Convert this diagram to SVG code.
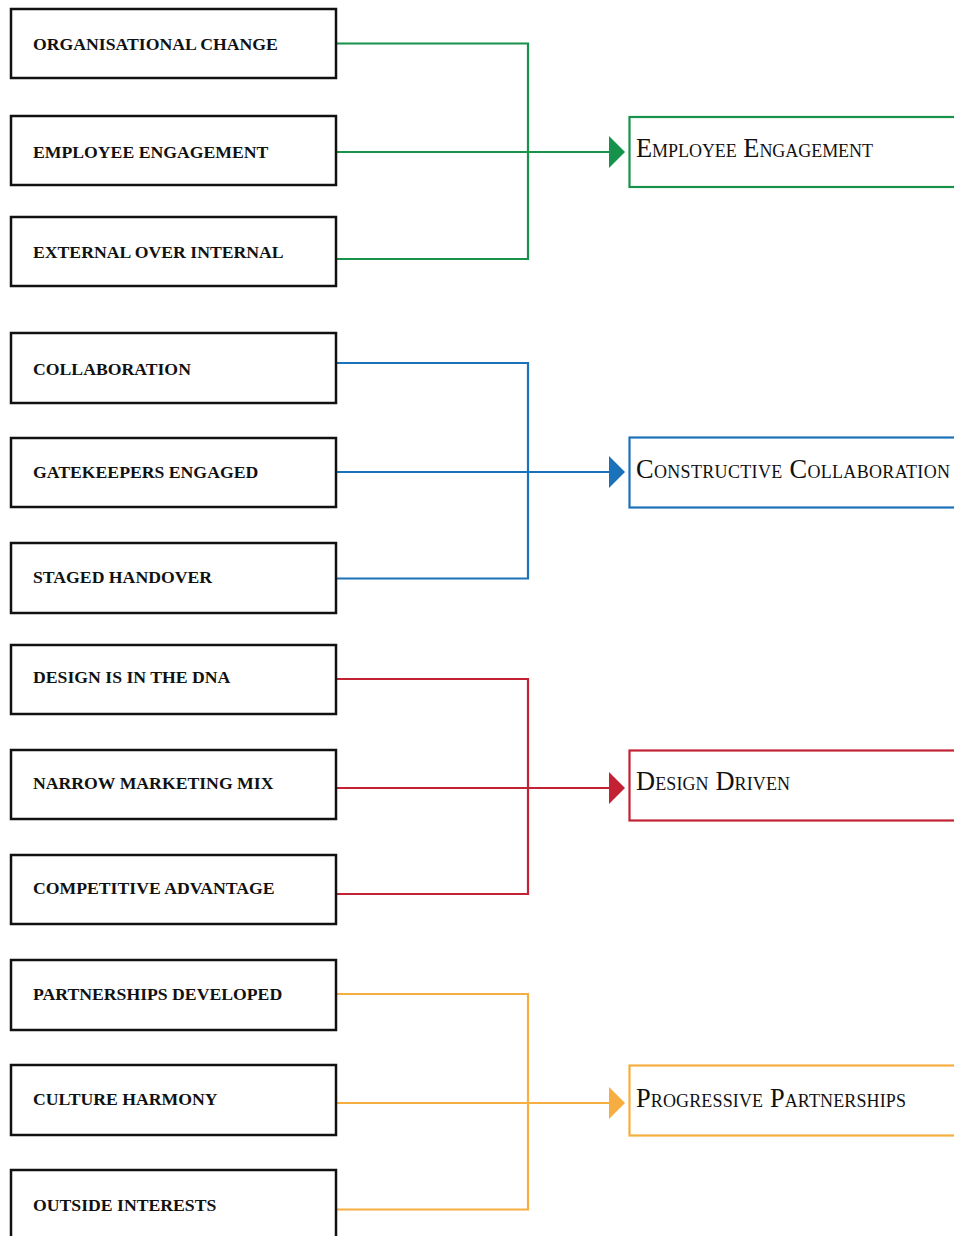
<svg xmlns="http://www.w3.org/2000/svg" width="954" height="1236" viewBox="0 0 954 1236">
  <style>
    .src rect { fill: #fff; stroke: #111; stroke-width: 2.5; }
    .src text { font-family: "Liberation Serif", "Times New Roman", serif; font-weight: bold; font-size: 17.7px; fill: #111; }
    .dst rect { fill: #fff; stroke-width: 2.2; }
    .dst text { font-family: "Liberation Serif", "Times New Roman", serif; font-variant: small-caps; font-size: 26.4px; fill: #111; }
    .wire { fill: none; stroke-width: 2.2; }
    .g { stroke: #17924a; } .gf { fill: #17924a; }
    .b { stroke: #1b72b8; } .bf { fill: #1b72b8; }
    .r { stroke: #c22233; } .rf { fill: #c22233; }
    .o { stroke: #f5ae3f; } .of { fill: #f5ae3f; }
  </style>

  <!-- connectors: three feeds merge on a vertical bus, one arrow to the theme box -->
  <g id="connectors">
    <path class="wire g" d="M336 43.5H528V259H336M336 152H610"/>
    <polygon class="gf" points="609,136 625,152 609,168"/>
    <path class="wire b" d="M336 363H528V578.5H336M336 472H610"/>
    <polygon class="bf" points="609,456 625,472 609,488"/>
    <path class="wire r" d="M336 679H528V894H336M336 788H610"/>
    <polygon class="rf" points="609,772 625,788 609,804"/>
    <path class="wire o" d="M336 994H528V1209.5H336M336 1103H610"/>
    <polygon class="of" points="609,1087 625,1103 609,1119"/>
  </g>

  <!-- source factors -->
  <g id="n-organisational-change" class="src"><rect x="11" y="9" width="325" height="69"/><text x="33" y="50">ORGANISATIONAL CHANGE</text></g>
  <g id="n-employee-engagement" class="src"><rect x="11" y="116" width="325" height="69"/><text x="33" y="158">EMPLOYEE ENGAGEMENT</text></g>
  <g id="n-external-over-internal" class="src"><rect x="11" y="217" width="325" height="69"/><text x="33" y="258">EXTERNAL OVER INTERNAL</text></g>
  <g id="n-collaboration" class="src"><rect x="11" y="333" width="325" height="70"/><text x="33" y="375">COLLABORATION</text></g>
  <g id="n-gatekeepers-engaged" class="src"><rect x="11" y="438" width="325" height="69"/><text x="33" y="478">GATEKEEPERS ENGAGED</text></g>
  <g id="n-staged-handover" class="src"><rect x="11" y="543" width="325" height="70"/><text x="33" y="583">STAGED HANDOVER</text></g>
  <g id="n-design-dna" class="src"><rect x="11" y="645" width="325" height="69"/><text x="33" y="683">DESIGN IS IN THE DNA</text></g>
  <g id="n-narrow-marketing-mix" class="src"><rect x="11" y="750" width="325" height="69"/><text x="33" y="789">NARROW MARKETING MIX</text></g>
  <g id="n-competitive-advantage" class="src"><rect x="11" y="855" width="325" height="69"/><text x="33" y="894">COMPETITIVE ADVANTAGE</text></g>
  <g id="n-partnerships-developed" class="src"><rect x="11" y="960" width="325" height="70"/><text x="33" y="1000">PARTNERSHIPS DEVELOPED</text></g>
  <g id="n-culture-harmony" class="src"><rect x="11" y="1065" width="325" height="70"/><text x="33" y="1105">CULTURE HARMONY</text></g>
  <g id="n-outside-interests" class="src"><rect x="11" y="1170" width="325" height="80"/><text x="33" y="1211">OUTSIDE INTERESTS</text></g>

  <!-- themes -->
  <g id="t-employee-engagement" class="dst"><rect class="g" x="629.5" y="117" width="340" height="70"/><text x="636" y="157" textLength="237" lengthAdjust="spacing">Employee Engagement</text></g>
  <g id="t-constructive-collaboration" class="dst"><rect class="b" x="629.5" y="437.5" width="340" height="70"/><text x="636" y="478" textLength="314" lengthAdjust="spacing">Constructive Collaboration</text></g>
  <g id="t-design-driven" class="dst"><rect class="r" x="629.5" y="750.5" width="340" height="70"/><text x="636" y="790" textLength="154" lengthAdjust="spacing">Design Driven</text></g>
  <g id="t-progressive-partnerships" class="dst"><rect class="o" x="629.5" y="1065.5" width="340" height="70"/><text x="636" y="1107" textLength="270" lengthAdjust="spacing">Progressive Partnerships</text></g>
</svg>
